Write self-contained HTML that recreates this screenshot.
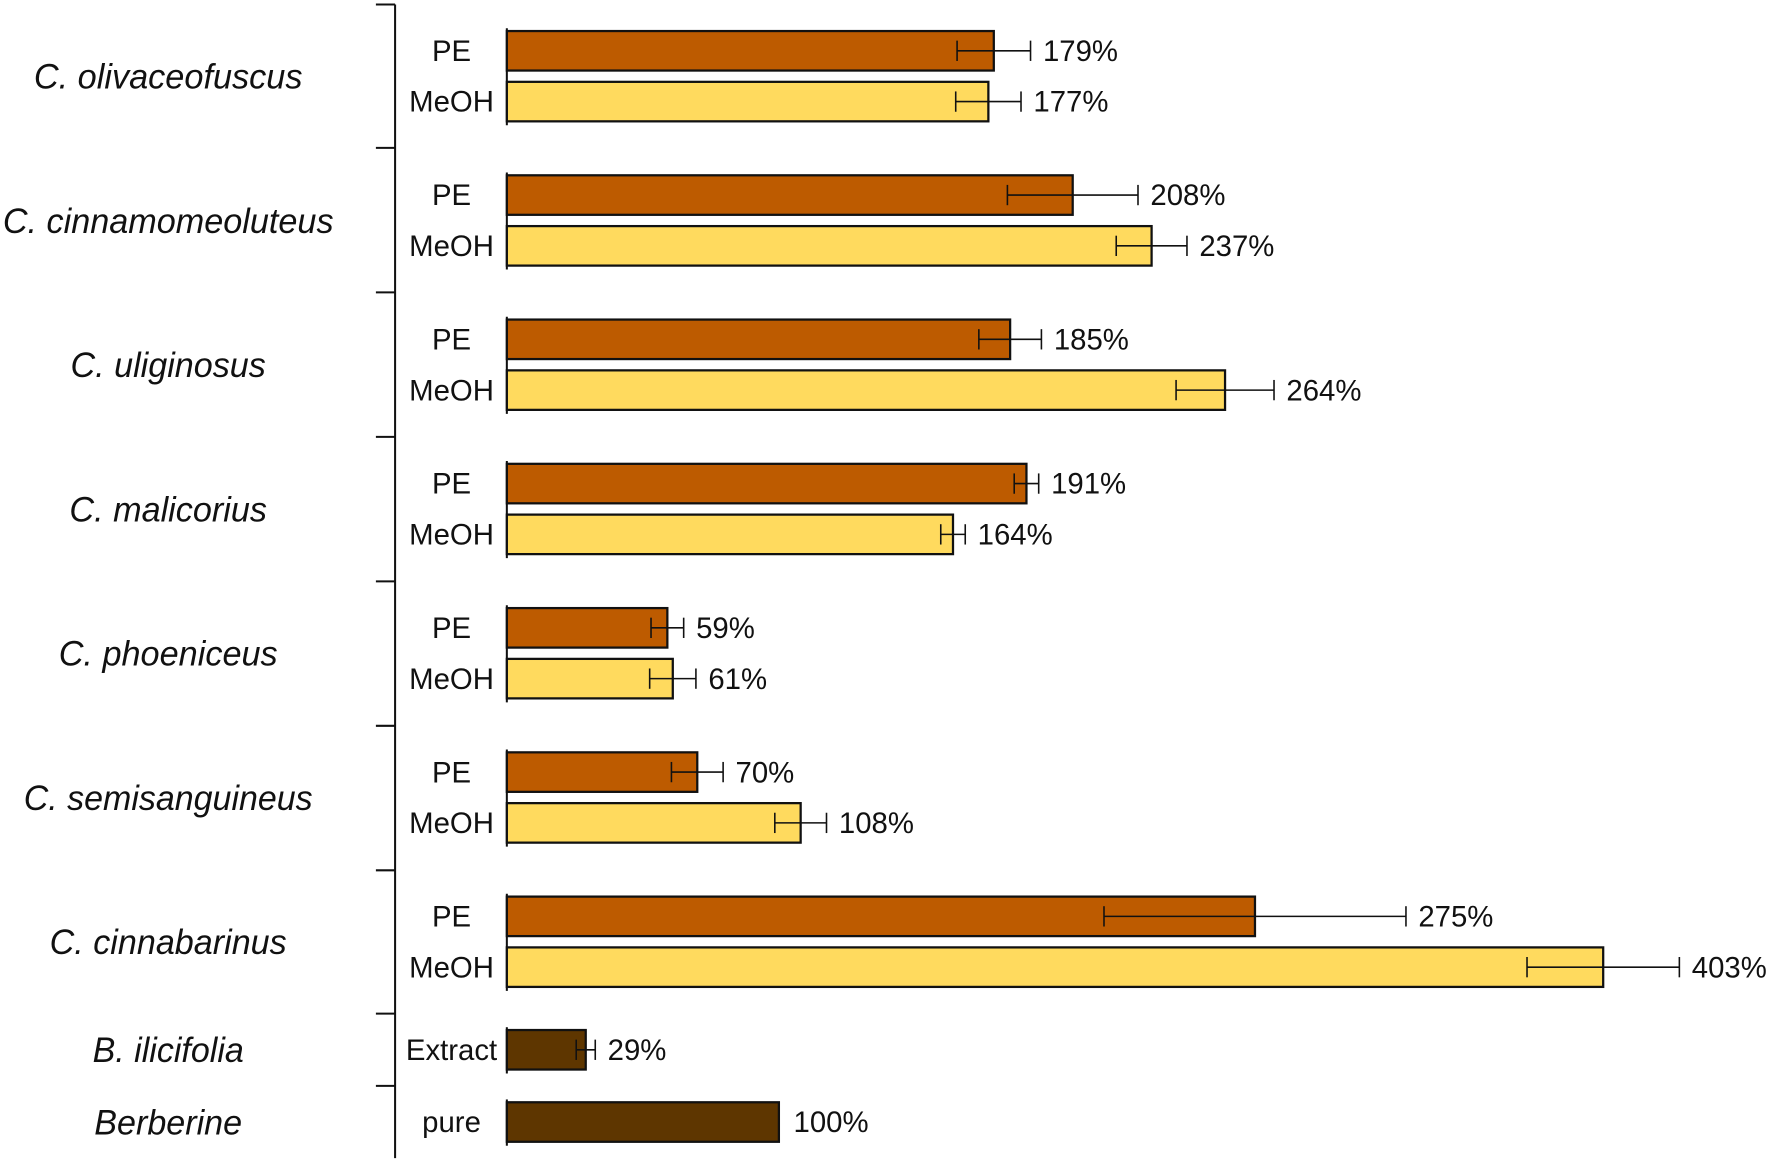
<!DOCTYPE html>
<html><head><meta charset="utf-8"><style>
html,body{margin:0;padding:0;background:#fff;}
svg{display:block;}
text{font-family:"Liberation Sans",Arial,sans-serif;fill:#111;}
</style></head><body>
<svg id="chart" width="1770" height="1163" viewBox="0 0 1568 1030.3" preserveAspectRatio="none" xmlns="http://www.w3.org/2000/svg"></svg>
<script>
const species = ["C. olivaceofuscus","C. cinnamomeoluteus","C. uliginosus","C. malicorius","C. phoeniceus","C. semisanguineus","C. cinnabarinus"];
const speciesWidths = [238,293,173,175,194,256,210];
const peValues = [179,208,185,191,59,70,275];
const peErrors = [13.5,24,11.5,4.5,6,9.5,55.5];
const meohValues = [177,237,264,164,61,108,403];
const meohErrors = [12,13,18,4.5,8.5,9.5,28];
const extraNames = ["B. ilicifolia","Berberine"];
const extraLabels = ["Extract","pure"];
const extraValues = [29,100];
const extraErrors = [3.5,0];

const svg = document.getElementById('chart');
const NS = 'http://www.w3.org/2000/svg';
const x0 = 449, pxPer = 2.41;
function xs(v){ return x0 + v*pxPer; }
function mk(tag, attrs, parent){
  const e = document.createElementNS(NS, tag);
  for (const k in attrs) e.setAttribute(k, attrs[k]);
  (parent||svg).appendChild(e); return e;
}
function txt(s, attrs){ const t = mk('text', attrs); t.textContent = s; return t; }

const ax = mk('line',{x1:350,y1:4,x2:350,y2:1026,stroke:'#111','stroke-width':1.8});


const ticks = [4,131,259,387,515,643,771,898,962];
ticks.forEach(y=>{
  const t = mk('line',{x1:333,y1:y,x2:350,y2:y,stroke:'#111','stroke-width':1.8});
  
  
});

function bar(cy, v, err, color, label, name){
  const r = mk('rect',{x:x0,y:cy-17.5,width:v*pxPer,height:35,fill:color,stroke:'#111','stroke-width':2});
  
  
  let endX = xs(v);
  if (err > 0) {
    const a = xs(v-err), b = xs(v+err);
    const g = mk('g',{stroke:'#111','stroke-width':1.4});
    
    
    mk('line',{x1:a,y1:cy,x2:b,y2:cy},g);
    mk('line',{x1:a,y1:cy-9,x2:a,y2:cy+9},g);
    mk('line',{x1:b,y1:cy-9,x2:b,y2:cy+9},g);
    endX = b;
  }
  const vt = txt(v + '%', {x:endX+(err>0?11:13), y:cy+9, 'font-size':26});
  
  
  const lt = txt(label, {x:400, y:cy+9, 'font-size':26, 'text-anchor':'middle'});
  
  
}

species.forEach((sp,i)=>{
  const pc = 45 + i*127.8, mc = pc + 45;
  const bl = mk('line',{x1:x0,y1:pc-20,x2:x0,y2:mc+21,stroke:'#111','stroke-width':1.8});
  
  
  bar(pc, peValues[i], peErrors[i], '#BD5B00', 'PE', 'bar-pe-' + (i+1));
  bar(mc, meohValues[i], meohErrors[i], '#FFDA5E', 'MeOH', 'bar-meoh-' + (i+1));
  const st = txt(sp, {x:149, y:(pc+mc)/2+11, 'font-size':31, 'font-style':'italic', 'text-anchor':'middle', textLength:speciesWidths[i], lengthAdjust:'spacingAndGlyphs'});
  
  
});

const extraCenters = [930, 994];
const extraWidths = [134, 131];
extraNames.forEach((n,i)=>{
  const cy = extraCenters[i];
  const bl = mk('line',{x1:x0,y1:cy-20,x2:x0,y2:cy+21,stroke:'#111','stroke-width':1.8});
  
  
  bar(cy, extraValues[i], extraErrors[i], '#5E3600', extraLabels[i], 'bar-' + (i===0?'extract':'pure'));
  const st = txt(n, {x:149, y:cy+11, 'font-size':31, 'font-style':'italic', 'text-anchor':'middle', textLength:extraWidths[i], lengthAdjust:'spacingAndGlyphs'});
  
  
});
</script>
</body></html>
